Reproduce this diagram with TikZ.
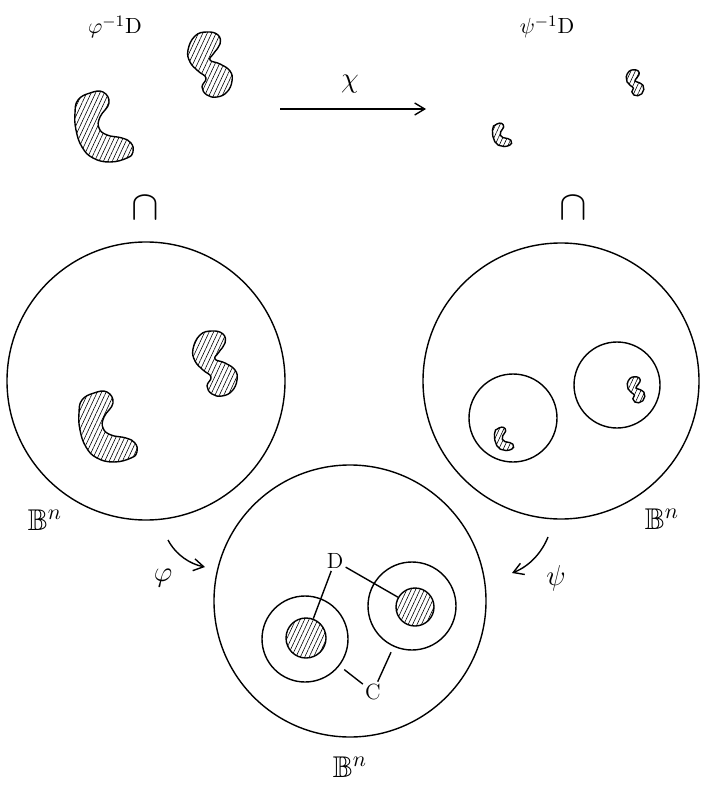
\documentclass[tikz,border=0pt]{standalone}
\usepackage{amssymb}
\usetikzlibrary{arrows.meta,patterns.meta}
\newcommand\blobC[3]{\draw[hatch,shift={(#1,#2)},scale=#3] plot[smooth cycle,tension=0.75] coordinates {(-14,-34) (-1,-35) (5,-24) (-4,-10) (-5,1) (3,8) (18,11) (27,16) (29,25) (23,31) (6,35) (-11,31) (-22,20) (-28,3) (-29,-14) (-26,-27)};}
\newcommand\blobS[3]{\draw[hatch,shift={(#1,#2)},scale=#3] plot[smooth cycle,tension=0.75] coordinates {(-3,-33) (8,-30) (10,-21) (4,-12) (0,-5) (10,-1) (20,6) (22,16) (17,27) (7,32) (-3,30) (-8,22) (-4,13) (-12,6) (-20,-3) (-22,-15) (-15,-29)};}
\begin{document}
\begin{tikzpicture}[x=0.5pt,y=-0.5pt,
  ring/.style={circle,draw,line width=0.7pt,inner sep=0pt},
  disk/.style={circle,draw,line width=0.7pt,inner sep=0pt,pattern={Lines[angle=65,distance=2pt,line width=0.3pt]}},
  hatch/.style={line width=0.7pt,pattern={Lines[angle=65,distance=2pt,line width=0.3pt]}},
  lbl/.style={inner sep=1pt,font=\fontsize{11}{13}\selectfont},
  big/.style={inner sep=1pt,font=\fontsize{15}{17}\selectfont},
  capsym/.style={inner sep=0pt,font=\fontsize{20}{22}\selectfont},
  arr/.style={line width=0.7pt,-{Straight Barb[length=5pt,width=6pt]}},
  conn/.style={line width=0.7pt}
]
\useasboundingbox (0,0) rectangle (705,790);
% top row
\node[lbl] (phiD) at (115,27) {$\varphi^{-1}\mathrm{D}$};
\node[lbl] (psiD) at (547,27) {$\psi^{-1}\mathrm{D}$};
\node[big] (chi) at (350,84) {$\chi$};
\coordinate (chiA) at (280,109);
\coordinate (chiB) at (426,109);
\draw[arr] (chiA) -- (chiB);
\blobS{210}{65}{1}
\blobC{104}{127}{1}
\blobS{635}{83}{0.4}
\blobC{502}{135}{0.33}
% subset symbols
\node[capsym] (capL) at (145,208) {$\cap$};
\node[capsym] (capR) at (573,208) {$\cap$};
% big balls
\node[ring,minimum size=139pt] (BL) at (146,381) {};
\node[ring,minimum size=138pt] (BR) at (561,381) {};
\node[ring,minimum size=136pt] (BB) at (350,601) {};
% left ball contents
\blobS{215}{364}{1}
\blobC{108}{427}{1}
% right ball contents
\node[ring,minimum size=44pt] (r1) at (513,418) {};
\node[ring,minimum size=43pt] (r2) at (617,385) {};
\blobS{636}{390}{0.4}
\blobC{504}{439}{0.33}
% bottom ball contents
\node[ring,minimum size=43pt] (oL) at (305,639) {};
\node[disk,minimum size=20pt] (dL) at (306,638) {};
\node[ring,minimum size=44pt] (oR) at (412,606) {};
\node[disk,minimum size=19pt] (dR) at (415,607) {};
\node[lbl] (Dl) at (335,561) {D};
\node[lbl] (Cl) at (373,692) {C};
\draw[conn] (Dl) -- (dL);
\draw[conn] (Dl) -- (dR);
\draw[conn,shorten >=3pt] (Cl) -- (oL);
\draw[conn,shorten >=3pt] (Cl) -- (oR);
% ball labels
\node[big] (bL) at (45,520) {$\mathbb{B}^n$};
\node[big] (bR) at (662,519) {$\mathbb{B}^n$};
\node[big] (bB) at (350,767) {$\mathbb{B}^n$};
% maps
\node[big] (phi) at (163,578) {$\varphi$};
\node[big] (psi) at (556,578) {$\psi$};
\coordinate (pA) at (168,540);
\coordinate (pB) at (205,567);
\draw[arr] (pA) .. controls (176,555) and (190,564) .. (pB);
\coordinate (sA) at (548,537);
\coordinate (sB) at (512,573);
\draw[arr] (sA) .. controls (542,552) and (530,566) .. (sB);
\end{tikzpicture}
\end{document}
